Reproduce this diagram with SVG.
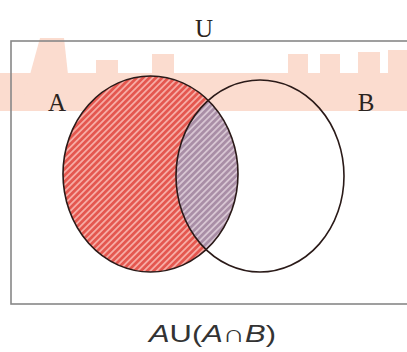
<svg xmlns="http://www.w3.org/2000/svg" width="407" height="352" viewBox="0 0 407 352">
<style>
.lbl{font-family:"Liberation Serif","Times New Roman",serif;font-size:25px;fill:#2b2420}
.wm{fill:#fbdccf}
.outline{fill:none;stroke:#2a1a18;stroke-width:1.6}
</style>
<defs>
<pattern id="hatchA" patternUnits="userSpaceOnUse" width="4.5" height="4.5" patternTransform="rotate(45)">
<rect width="4.5" height="4.5" fill="#e4574f"/>
<rect width="1.8" height="4.5" fill="#f6aaa3"/>
</pattern>
<pattern id="hatchI" patternUnits="userSpaceOnUse" width="4.5" height="4.5" patternTransform="rotate(45)">
<rect width="4.5" height="4.5" fill="#a98ea6"/>
<rect width="1.8" height="4.5" fill="#d7c5d2"/>
</pattern>
<clipPath id="clipA"><ellipse cx="150.5" cy="174" rx="87.5" ry="98"/></clipPath>
</defs>
<rect width="407" height="352" fill="#ffffff"/>
<g id="watermark">
<rect class="wm" x="0" y="73" width="407" height="38"/>
<polygon class="wm" points="20,111 40,38 64,38 72,111"/>
<rect class="wm" x="96" y="60" width="22" height="18"/>
<rect class="wm" x="152" y="54" width="22" height="24"/>
<rect class="wm" x="288" y="54" width="20" height="20"/>
<rect class="wm" x="320" y="54" width="20" height="20"/>
<rect class="wm" x="358" y="52" width="22" height="22"/>
<rect class="wm" x="388" y="50" width="19" height="24"/>
</g>
<g id="universe">
<rect x="11" y="41" width="400" height="263" fill="none" stroke="#888" stroke-width="1.6"/>
<text class="lbl" x="204" y="37" text-anchor="middle">U</text>
</g>
<g id="setA">
<ellipse cx="150.5" cy="174" rx="87.5" ry="98" fill="url(#hatchA)"/>
<ellipse cx="260" cy="176" rx="84" ry="96" fill="url(#hatchI)" clip-path="url(#clipA)"/>
<ellipse class="outline" cx="150.5" cy="174" rx="87.5" ry="98"/>
<text class="lbl" x="57" y="111" text-anchor="middle">A</text>
</g>
<g id="setB">
<ellipse class="outline" cx="260" cy="176" rx="84" ry="96"/>
<text class="lbl" x="366" y="111" text-anchor="middle">B</text>
</g>
<g id="caption">
<text x="149" y="342" textLength="127" lengthAdjust="spacingAndGlyphs" font-family="'Liberation Sans',Arial,sans-serif" font-size="24" fill="#333"><tspan font-style="italic">A</tspan>U(<tspan font-style="italic">A</tspan>∩<tspan font-style="italic">B</tspan>)</text>
</g>
</svg>
